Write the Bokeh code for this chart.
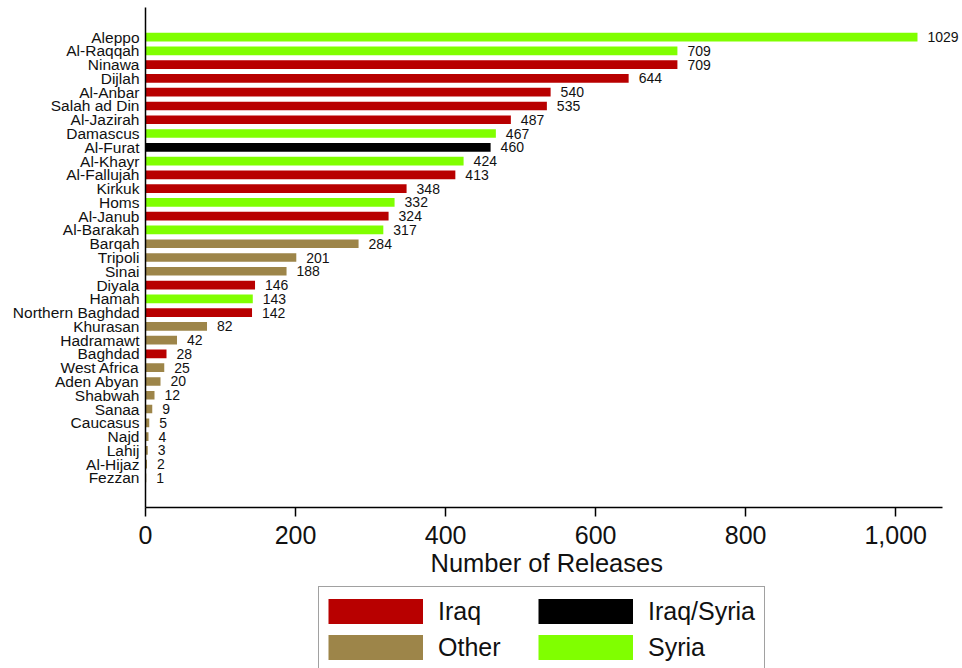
from bokeh.plotting import figure
from bokeh.layouts import column
from bokeh.models import (ColumnDataSource, Legend, LegendItem, NumeralTickFormatter,
                          FactorRange, Range1d, FixedTicker, LabelSet, Title)
from bokeh.core.properties import value
from bokeh.embed import file_html
from bokeh.resources import INLINE

regions = ["Aleppo", "Al-Raqqah", "Ninawa", "Dijlah", "Al-Anbar", "Salah ad Din",
           "Al-Jazirah", "Damascus", "Al-Furat", "Al-Khayr", "Al-Fallujah", "Kirkuk",
           "Homs", "Al-Janub", "Al-Barakah", "Barqah", "Tripoli", "Sinai", "Diyala",
           "Hamah", "Northern Baghdad", "Khurasan", "Hadramawt", "Baghdad",
           "West Africa", "Aden Abyan", "Shabwah", "Sanaa", "Caucasus", "Najd",
           "Lahij", "Al-Hijaz", "Fezzan"]
releases = [1029, 709, 709, 644, 540, 535, 487, 467, 460, 424, 413, 348, 332, 324,
            317, 284, 201, 188, 146, 143, 142, 82, 42, 28, 25, 20, 12, 9, 5, 4, 3, 2, 1]
groups = ["Syria", "Syria", "Iraq", "Iraq", "Iraq", "Iraq", "Iraq", "Syria",
          "Iraq/Syria", "Syria", "Iraq", "Iraq", "Syria", "Iraq", "Syria", "Other",
          "Other", "Other", "Iraq", "Syria", "Iraq", "Other", "Other", "Iraq",
          "Other", "Other", "Other", "Other", "Other", "Other", "Other", "Other", "Other"]
legend_order = ["Iraq", "Iraq/Syria", "Other", "Syria"]
group_colors = {"Iraq": "#b80000", "Iraq/Syria": "#000000",
                "Other": "#9d8549", "Syria": "#80ff00"}
x_ticks = [0, 200, 400, 600, 800, 1000]
x_label = "Number of Releases"

FONT = "Liberation Sans"

p = figure(y_range=FactorRange(factors=regions[::-1], range_padding=0.10),
           x_range=Range1d(0, 1089), frame_width=817, frame_height=500,
           output_backend="svg", toolbar_location=None,
           min_border_left=145, min_border_right=0, min_border_top=7,
           min_border_bottom=72)

group_sources = {}
for g in legend_order:
    ys = [r for r, gg in zip(regions, groups) if gg == g]
    xs = [v for v, gg in zip(releases, groups) if gg == g]
    src = ColumnDataSource(dict(y=ys, x=xs))
    group_sources[g] = src
    p.hbar(y="y", right="x", left=0, height=0.63, source=src,
           fill_color=group_colors[g], line_color=None)

lab_src = ColumnDataSource(dict(y=regions, x=releases, t=[str(v) for v in releases]))
labels = LabelSet(x="x", y="y", text="t", source=lab_src, x_offset=10,
                  text_baseline="middle", text_align="left", text_font=value(FONT),
                  text_font_size="14px", text_color="#111111")
p.add_layout(labels)

p.xgrid.grid_line_color = None
p.ygrid.grid_line_color = None
p.outline_line_color = None

xa = p.xaxis[0]
xa.bounds = (0, 1062)
xa.ticker = FixedTicker(ticks=x_ticks)
xa.formatter = NumeralTickFormatter(format="0,0")
xa.major_label_text_font = FONT
xa.major_label_text_font_size = "25px"
xa.major_label_text_color = "#111111"
xa.major_label_standoff = 9
xa.major_tick_out = 9
xa.major_tick_in = 0
xa.minor_tick_out = 0
xa.minor_tick_in = 0
xa.axis_line_width = 1.5
xa.major_tick_line_width = 1.5

# x-axis title, centred under the drawn axis line (0..1062)
xt = Title(text=x_label, align="left", offset=285, standoff=0,
           text_font=FONT, text_font_size="25.5px", text_font_style="normal",
           text_color="#111111")
p.add_layout(xt, "below")

ya = p.yaxis[0]
ya.major_tick_out = 0
ya.major_tick_in = 0
ya.major_label_text_font = FONT
ya.major_label_text_font_size = "15.5px"
ya.major_label_text_color = "#111111"
ya.major_label_standoff = 6
ya.axis_line_width = 1.5

# Legend panel (its line renderers use the group data, kept outside the visible range)
lg = figure(frame_width=817, frame_height=89, output_backend="svg",
            toolbar_location=None, x_axis_location=None, y_axis_location=None,
            min_border_left=145, min_border_right=0, min_border_top=0,
            min_border_bottom=0, x_range=Range1d(-3, -2), y_range=Range1d(-3, -2))
lg.outline_line_color = None
lg.xgrid.grid_line_color = None
lg.ygrid.grid_line_color = None
items = []
for g in legend_order:
    r = lg.line(x="x", y="x", source=group_sources[g], line_width=25,
                line_color=group_colors[g], line_cap="butt")
    items.append(LegendItem(label=g, renderers=[r]))
legend = Legend(items=items, ncols=2, orientation="horizontal", location=(173, -4),
                glyph_width=95, glyph_height=30, label_standoff=15, spacing=6,
                label_width=94, label_height=20, padding=9, margin=0,
                border_line_color="#444444", border_line_width=1,
                label_text_font=FONT, label_text_font_size="25px",
                label_text_color="#111111", label_text_baseline="middle")
lg.add_layout(legend, "center")

layout = column(p, lg, spacing=0)
open("out.html", "w").write(file_html(layout, INLINE))
